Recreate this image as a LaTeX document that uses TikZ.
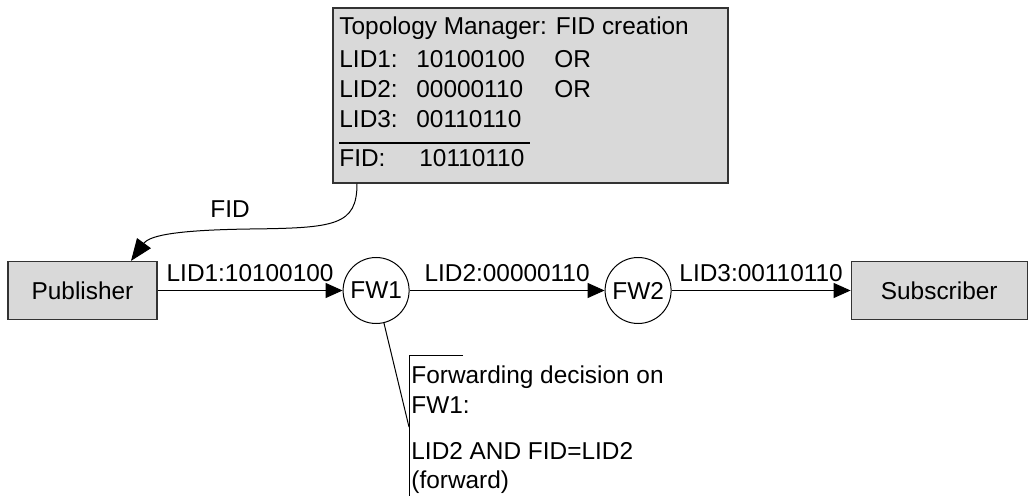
\documentclass[tikz,border=0pt]{standalone}
\usepackage{fontspec}
\setmainfont{Liberation Sans}
\usepackage{tikz}
\usetikzlibrary{positioning,arrows.meta}
\definecolor{boxgrey}{RGB}{217,217,217}
\tikzset{grey box/.style={rectangle,fill=boxgrey,draw=black!80,line width=0.6pt,minimum height=29pt,inner sep=0pt},
         fw node/.style={circle,draw,line width=0.5pt,minimum size=33pt,inner sep=0pt},
         link/.style={draw,line width=0.5pt,-{Triangle[length=8.5pt,width=7.5pt]}},
         fid link/.style={draw,line width=0.5pt,-{Triangle[length=11pt,width=8.5pt]}},
         tm text/.style={anchor=base west,inner sep=0pt}}

\begin{document}
\begin{tikzpicture}[x=0.5pt,y=-0.5pt,font=\fontsize{12.2}{15}\selectfont]
            \useasboundingbox (0,0) rectangle (1032,496);

            % topology manager
            \node[grey box,minimum width=197.5pt,minimum height=87.5pt] (tm) at (530.5,95.5) {};
            \node[tm text] (tmtitle) at (339,35) {Topology Manager: FID creation};
            \node[tm text] (lid1) at (339,68) {LID1:};
            \node[tm text] (lid1val) at (416,68) {10100100};
            \node[tm text] (lid1op) at (554,68) {OR};
            \node[tm text] (lid2) at (339,98) {LID2:};
            \node[tm text] (lid2val) at (416,98) {00000110};
            \node[tm text] (lid2op) at (554,98) {OR};
            \node[tm text] (lid3) at (339,128) {LID3:};
            \node[tm text] (lid3val) at (416,128) {00110110};
            \draw[line width=1pt] (339,143) -- (530,143);
            \node[tm text] (fid) at (339,167) {FID:};
            \node[tm text] (fidval) at (419,167) {10110110};

            % delivery path
            \node[grey box,minimum width=74.5pt] (pub) at (82.5,290.5) {Publisher};
            \node[fw node] (fw1) [right=92.5pt of pub] {FW1};
            \node[fw node] (fw2) [right=97.5pt of fw1] {FW2};
            \node[grey box,minimum width=88pt] (sub) [right=89.5pt of fw2] {Subscriber};

            \path[link]
            (pub) edge node[above=1pt] {LID1:10100100} (fw1)
            (fw1) edge node[above=1pt] {LID2:00000110} (fw2)
            (fw2) edge node[above=1pt] {LID3:00110110} (sub);

            \draw[fid link] ([xshift=-86.75pt]tm.south) .. controls +(0,42) and +(85,-1) .. (250,229)
                node[above=2pt,xshift=-10pt] {FID}
                .. controls +(-70,1) and +(19,-26) .. ([xshift=24.25pt]pub.north);

            % forwarding note
            \coordinate (notetop) at (409,355);
            \coordinate (callout) at (409,427);
            \draw[line width=0.5pt] (fw1) -- (callout);
            \draw[line width=0.5pt] ([xshift=27pt]notetop) -- (notetop) -- (409,496);
            \node[tm text] (note1) at (411,383) {Forwarding decision on};
            \node[tm text] (note2) at (411,413) {FW1:};
            \node[tm text] (note3) at (411,459) {LID2 AND FID=LID2};
            \node[tm text] (note4) at (411,488) {(forward)};
        \end{tikzpicture}
\end{document}
